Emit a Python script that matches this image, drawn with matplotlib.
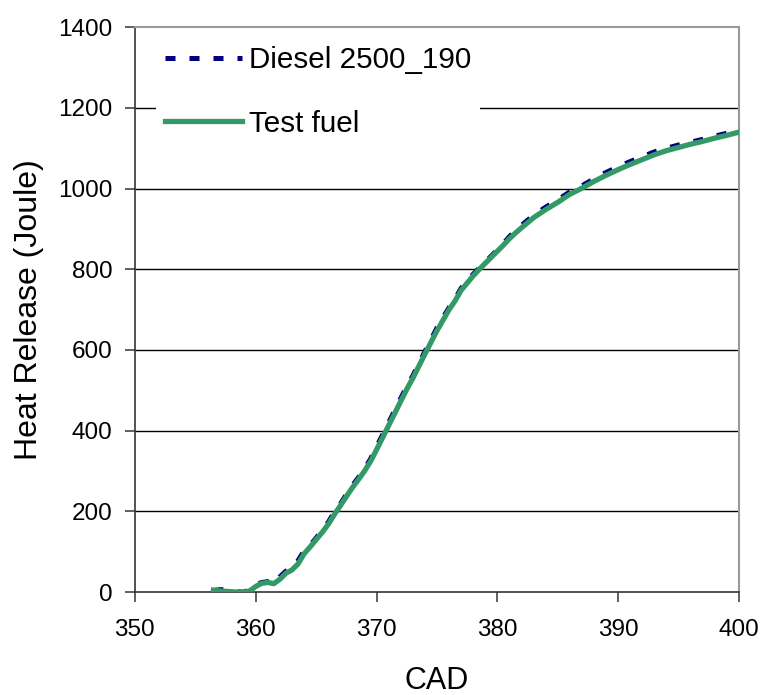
import numpy as np
import matplotlib.pyplot as plt

plt.rcParams['font.family'] = ['Liberation Sans', 'DejaVu Sans']

# crank angle (deg) and cumulative heat release (J)
cad = [356.5, 357, 357.5, 358, 358.5, 359, 359.5, 360, 360.5, 361, 361.5, 362, 362.5,
       363, 363.5, 364, 364.5, 365, 365.5, 366, 366.5, 367, 367.5, 368, 368.5, 369,
       369.5, 370, 370.5, 371, 371.5, 372, 372.5, 373, 373.5, 374, 374.5, 375, 375.5,
       376, 376.5, 377, 377.5, 378, 378.5, 379, 379.5, 380, 380.5, 381, 381.5, 382,
       383, 384, 385, 386, 387, 388, 389, 390, 391, 392, 393, 394, 395, 396, 397,
       398, 399, 400]

diesel = [4, 6, 6, 5, 1, 0, 6, 18, 24, 26, 22, 38, 52, 60, 78, 102, 116, 134, 153,
          173, 198, 218, 242, 264, 284, 305, 330, 360, 390, 420, 450, 480, 510, 536,
          566, 596, 625, 655, 680, 705, 727, 753, 770, 788, 803, 818, 833, 848, 864,
          881, 896, 909, 934, 954, 972, 992, 1007, 1024, 1040, 1054, 1067, 1079,
          1091, 1100, 1108, 1115, 1122, 1130, 1137, 1145]

test_fuel = [5, 3, 2, 1, 0, 0, 3, 14, 22, 24, 21, 32, 47, 55, 70, 95, 112, 130, 148,
             168, 192, 214, 237, 259, 279, 300, 324, 353, 383, 413, 443, 473, 503, 530,
             560, 590, 619, 648, 674, 700, 722, 748, 766, 784, 800, 815, 830, 845, 860,
             876, 890, 903, 928, 948, 966, 986, 1001, 1018, 1033, 1047, 1060, 1072,
             1084, 1094, 1102, 1110, 1117, 1125, 1132, 1140]

xticks = [350, 360, 370, 380, 390, 400]
yticks = [0, 200, 400, 600, 800, 1000, 1200, 1400]

fig = plt.figure(figsize=(7.62, 6.95), dpi=100)
ax = fig.add_axes([0.177, 0.148, 0.793, 0.813])

for y in yticks[1:-1]:
    ax.axhline(y, color='black', lw=1.0, zorder=1)

ax.plot(cad, diesel, color='#000080', lw=3.6, linestyle=(0, (2.0, 2.8)),
        label='Diesel 2500_190', zorder=3)
ax.plot(cad, test_fuel, color='#339966', lw=3.8, label='Test fuel', zorder=4)

ax.set_xlim(350, 400)
ax.set_ylim(0, 1400)
ax.set_xticks(xticks, labels=[str(v) for v in xticks], fontsize=17.5)
ax.set_yticks(yticks, labels=[str(v) for v in yticks], fontsize=17.5)
ax.tick_params(direction='out', length=7, width=1.2, color='#444444')
ax.tick_params(axis='x', pad=12)
ax.tick_params(axis='y', pad=9)

for side in ['top', 'right']:
    ax.spines[side].set_color('#999999')
    ax.spines[side].set_linewidth(1.5)
for side in ['left', 'bottom']:
    ax.spines[side].set_color('#333333')
    ax.spines[side].set_linewidth(1.2)

ax.set_xlabel('CAD', fontsize=22, labelpad=18)
ax.set_ylabel('Heat Release (Joule)', fontsize=23, labelpad=10)

leg = ax.legend(loc='upper left', bbox_to_anchor=(0.035, 0.982), fontsize=21.3,
                frameon=True, fancybox=False, handlelength=2.6, handletextpad=0.25,
                labelspacing=1.2, borderpad=0.3, borderaxespad=0.0)
leg.get_frame().set_facecolor('white')
leg.get_frame().set_edgecolor('none')
leg.get_frame().set_alpha(1)
leg.set_zorder(5)

fig.savefig('out.png', dpi=100)
